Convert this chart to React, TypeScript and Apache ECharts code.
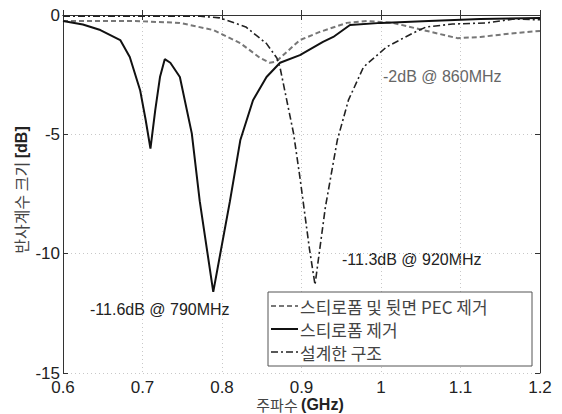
import React, { useEffect, useRef } from "react";
import * as echarts from "echarts";

const seriesNames = ["스티로폼 및 뒷면 PEC 제거", "스티로폼 제거", "설계한 구조"];

const freqPec = [0.6, 0.688, 0.747, 0.789, 0.823, 0.848, 0.86, 0.868, 0.873, 0.898, 0.923, 0.957, 0.982, 1.015, 1.053, 1.096, 1.125, 1.167, 1.2];
const s11Pec = [-0.25, -0.25, -0.33, -0.63, -1.18, -1.8, -2.0, -1.95, -1.8, -1.05, -0.71, -0.33, -0.25, -0.33, -0.63, -0.97, -0.92, -0.76, -0.67];

const freqNoFoam = [0.6, 0.625, 0.647, 0.672, 0.684, 0.697, 0.704, 0.71, 0.716, 0.722, 0.728, 0.735, 0.747, 0.762, 0.772, 0.789, 0.81, 0.823, 0.839, 0.856, 0.873, 0.898, 0.927, 0.94, 0.961, 1.0, 1.06, 1.125, 1.2];
const s11NoFoam = [-0.25, -0.4, -0.63, -1.05, -1.76, -3.15, -4.4, -5.6, -4.0, -2.6, -1.85, -2.0, -2.6, -4.96, -7.8, -11.6, -7.8, -5.25, -3.57, -2.6, -2.0, -1.68, -1.13, -0.92, -0.42, -0.33, -0.25, -0.17, -0.13];

const freqDesign = [0.6, 0.773, 0.797, 0.83, 0.856, 0.869, 0.873, 0.89, 0.898, 0.91, 0.917, 0.93, 0.945, 0.959, 0.978, 1.007, 1.04, 1.057, 1.09, 1.133, 1.167, 1.2];
const s11Design = [-0.05, -0.05, -0.12, -0.5, -1.2, -1.8, -2.2, -4.96, -6.8, -9.8, -11.3, -8.06, -5.25, -3.57, -2.18, -1.34, -0.76, -0.5, -0.38, -0.33, -0.17, -0.2];

const annotations = ["-2dB @ 860MHz", "-11.3dB @ 920MHz", "-11.6dB @ 790MHz"];

const FONT = "'Liberation Sans', Arial, 'Noto Sans CJK KR', sans-serif";
const KFONT = "'Noto Sans CJK KR', sans-serif";

const lineStyles = [
  { color: "#777", width: 2, type: [5, 3] as any },
  { color: "#111", width: 2, type: "solid" as any },
  { color: "#222", width: 1.6, type: [7, 3, 2, 3] as any },
];

function pairs(xs: number[], ys: number[]) {
  return xs.map((x, i) => [x, ys[i]]);
}

export default function App() {
  const ref = useRef<HTMLDivElement>(null);
  useEffect(() => {
    document.body.style.margin = "0";
    const chart = echarts.init(ref.current!, null, { renderer: "svg" });
    const gridLine = { show: true, lineStyle: { color: "#c8c8c8", type: [1, 3] as any, width: 1 } };
    const axisLine = { show: true, lineStyle: { color: "#333", width: 1 } };
    const tick = { show: true, inside: true, length: 5, lineStyle: { color: "#333" } };

    const legendX = 268, legendY = 292, legendW = 264, legendH = 74;
    const rowYs = [306, 329, 352];
    const legendGraphics: any[] = [
      { type: "rect", shape: { x: legendX, y: legendY, width: legendW, height: legendH }, style: { fill: "#fff", stroke: "#555", lineWidth: 1 }, z: 100 },
    ];
    seriesNames.forEach((name, i) => {
      legendGraphics.push({
        type: "line", shape: { x1: legendX + 3, y1: rowYs[i], x2: legendX + 30, y2: rowYs[i] },
        style: { stroke: lineStyles[i].color, lineWidth: lineStyles[i].width, lineDash: Array.isArray(lineStyles[i].type) ? lineStyles[i].type : null },
        z: 101,
      });
      legendGraphics.push({
        type: "text", x: legendX + 32, y: rowYs[i],
        style: { text: name, fill: "#444", fontSize: 17, lineHeight: 20, fontFamily: KFONT, verticalAlign: "middle" }, z: 101,
      });
    });

    chart.setOption({
      animation: false,
      backgroundColor: "#fff",
      textStyle: { fontFamily: FONT },
      grid: { left: 63, right: 22, top: 15, bottom: 41, containLabel: false },
      xAxis: [
        {
          type: "value", min: 0.6, max: 1.2, interval: 0.1, position: "bottom",
          axisLine, axisTick: tick,
          axisLabel: { color: "#222", fontSize: 17, fontFamily: FONT, margin: 6, formatter: (v: number) => String(Math.round(v * 10) / 10) },
          splitLine: gridLine,
        },
        {
          type: "value", min: 0.6, max: 1.2, interval: 0.1, position: "top",
          axisLine, axisTick: tick, axisLabel: { show: false }, splitLine: { show: false },
        },
      ],
      yAxis: [
        {
          type: "value", min: -15, max: 0, interval: 5, position: "left",
          axisLine, axisTick: tick,
          axisLabel: { color: "#222", fontSize: 17, fontFamily: FONT, margin: 3 },
          splitLine: gridLine,
        },
        {
          type: "value", min: -15, max: 0, interval: 5, position: "right",
          axisLine, axisTick: tick, axisLabel: { show: false }, splitLine: { show: false },
        },
      ],
      series: [
        { name: seriesNames[0], type: "line", symbol: "none", data: pairs(freqPec, s11Pec), lineStyle: lineStyles[0], z: 3 },
        { name: seriesNames[1], type: "line", symbol: "none", data: pairs(freqNoFoam, s11NoFoam), lineStyle: lineStyles[1], z: 4 },
        { name: seriesNames[2], type: "line", symbol: "none", data: pairs(freqDesign, s11Design), lineStyle: lineStyles[2], z: 5 },
      ],
      graphic: [
        { type: "text", left: 383, top: 68, style: { text: annotations[0], fill: "#666", fontSize: 16, fontFamily: FONT } },
        { type: "text", left: 342, top: 251, style: { text: annotations[1], fill: "#222", fontSize: 16, fontFamily: FONT } },
        { type: "text", left: 90, top: 301, style: { text: annotations[2], fill: "#222", fontSize: 16, fontFamily: FONT } },
        {
          type: "text", x: 300, y: 404,
          style: {
            text: "{a|주파수 }{b|(GHz)}", align: "center", verticalAlign: "middle",
            rich: {
              a: { fontSize: 15, fill: "#444", fontFamily: KFONT },
              b: { fontSize: 16, fill: "#222", fontWeight: "bold", fontFamily: FONT },
            },
          },
        },
        {
          type: "text", x: 21, y: 190, rotation: Math.PI / 2,
          style: {
            text: "{a|반사계수 크기 }{b|[dB]}", align: "center", verticalAlign: "middle",
            rich: {
              a: { fontSize: 16, fill: "#444", fontFamily: KFONT },
              b: { fontSize: 16, fill: "#222", fontWeight: "bold", fontFamily: FONT },
            },
          },
        },
        ...legendGraphics,
      ],
    });
    return () => chart.dispose();
  }, []);
  return <div ref={ref} style={{ position: "absolute", left: 0, top: 0, width: 562, height: 414 }} />;
}
